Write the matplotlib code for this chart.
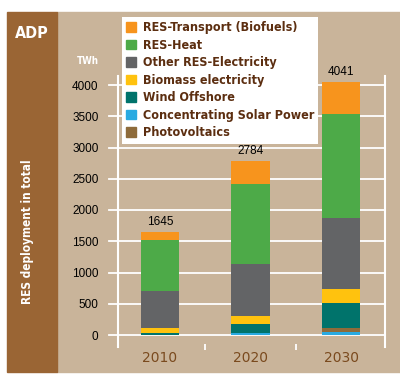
import matplotlib.pyplot as plt
from matplotlib.patches import Rectangle, Patch
import numpy as np

years = ["2010", "2020", "2030"]
totals = [1645, 2784, 4041]

# stacked from the bottom up
series = ["Concentrating Solar Power", "Photovoltaics", "Wind Offshore", "Biomass electricity",
          "Other RES-Electricity", "RES-Heat", "RES-Transport (Biofuels)"]
csp = [2, 25, 55]
pv = [3, 15, 65]
wind = [25, 130, 400]
biomass = [75, 140, 220]
other = [600, 830, 1140]
heat = [815, 1270, 1650]
transport = [125, 374, 511]
values = [csp, pv, wind, biomass, other, heat, transport]
colors = ["#29AAE1", "#8E6B3A", "#00736B", "#FFC20E", "#636466", "#4DAA48", "#F7941D"]

legend_order = ["RES-Transport (Biofuels)", "RES-Heat", "Other RES-Electricity", "Biomass electricity",
                "Wind Offshore", "Concentrating Solar Power", "Photovoltaics"]

W, H = 400, 385
fig = plt.figure(figsize=(4, 3.85), dpi=100, facecolor="white")

# background panels
fig.patches.append(Rectangle((57 / W, 1 - 372 / H), (W - 57) / W, 360 / H,
                             transform=fig.transFigure, color="#C9B49A", zorder=-2))
fig.patches.append(Rectangle((7 / W, 1 - 372 / H), 50 / W, 360 / H,
                             transform=fig.transFigure, color="#9A6534", zorder=-2))

cond = dict(family="DejaVu Sans", fontstretch="condensed", fontweight="bold")
fig.text(32 / W, 1 - 33 / H, "ADP", color="white", fontsize=11.5, ha="center", va="center", **cond)
fig.text(27 / W, 1 - 232 / H, "RES deployment in total", color="white", fontsize=8.5,
         rotation=90, ha="center", va="center", **cond)
fig.text(88 / W, 1 - 61 / H, "TWh", color="white", fontsize=7, ha="center", va="center", **cond)

ax_top, ax_bot = 76, 347
ax = fig.add_axes([118 / W, 1 - ax_bot / H, (385 - 118) / W, (ax_bot - ax_top) / H])
ax.set_facecolor("none")
ax.set_ylim(-192, 4144)
ax.set_xlim(-0.464, 2.486)

x = np.arange(len(years))
bottom = np.zeros(len(years))
for name, vals, c in zip(series, values, colors):
    ax.bar(x, vals, 0.42, bottom=bottom, color=c, zorder=3, label=name)
    bottom += np.array(vals)

for xi, t, top in zip(x, totals, bottom):
    ax.annotate(str(t), (xi, top), xytext=(0, 3), textcoords="offset points",
                ha="center", va="bottom", fontsize=8.5, family="Liberation Sans", color="black")

yt = np.arange(0, 4001, 500)
for v in yt:
    ax.axhline(v, xmin=-0.034, xmax=1, color="white", lw=1.3, zorder=1, clip_on=False)
ax.set_yticks(yt)
ax.set_yticklabels([str(v) for v in yt], fontsize=8.5, family="Liberation Sans")
ax.tick_params(axis="y", length=0, pad=14)

ax.set_xticks(x)
ax.set_xticklabels(years, fontsize=10, color="#7A4A1E", family="DejaVu Sans")
ax.tick_params(axis="x", length=0, pad=3)
ax.set_xticks([0.5, 1.5], minor=True)
ax.tick_params(axis="x", which="minor", length=4, width=1.3, color="white", direction="inout")

for s in ["top", "bottom"]:
    ax.spines[s].set_visible(False)
for s in ["left", "right"]:
    ax.spines[s].set_color("white")
    ax.spines[s].set_linewidth(1.5)

handles = [Patch(color=colors[series.index(n)]) for n in legend_order]
leg = ax.legend(handles, legend_order, loc="upper left", bbox_to_anchor=(122 / W, 1 - 17 / H),
                bbox_transform=fig.transFigure, borderaxespad=0, frameon=True, fancybox=False,
                handlelength=0.8, handleheight=0.8, handletextpad=0.5, labelspacing=0.36,
                borderpad=0.35,
                prop={"family": "DejaVu Sans", "stretch": "condensed", "weight": "bold", "size": 9})
leg.get_frame().set_facecolor("white")
leg.get_frame().set_edgecolor("none")
leg.get_frame().set_alpha(1)
leg.set_zorder(5)
for t in leg.get_texts():
    t.set_color("#5C2E10")

fig.savefig("out.png", dpi=100, facecolor="white")
